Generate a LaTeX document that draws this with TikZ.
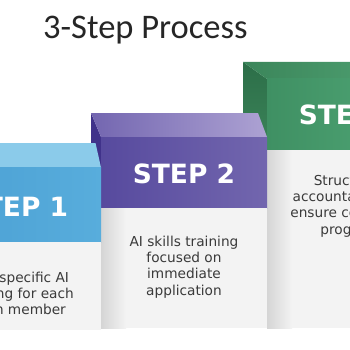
\documentclass[tikz,border=0pt]{standalone}
\usepackage{fontspec}
\setmainfont{DejaVu Sans}
\newfontfamily\titlefont{Carlito}
\definecolor{titlegray}{HTML}{262626}
\definecolor{bodygray}{HTML}{3A3A3A}
\definecolor{panel}{HTML}{F3F3F3}
\definecolor{panelshade}{HTML}{D5D5D5}
\definecolor{sonetop}{HTML}{8BCBEA}
\definecolor{sonefrontL}{HTML}{4A9FD3}
\definecolor{sonefrontR}{HTML}{58ADDC}
\definecolor{stwotopL}{HTML}{7366B0}
\definecolor{stwotopR}{HTML}{ADA2D3}
\definecolor{stwofrontL}{HTML}{574A9E}
\definecolor{stwofrontR}{HTML}{7266AE}
\definecolor{stwoside}{HTML}{40328A}
\definecolor{sthreetopL}{HTML}{3B855A}
\definecolor{sthreetopR}{HTML}{4A9A6C}
\definecolor{sthreefrontL}{HTML}{3F9063}
\definecolor{sthreefrontR}{HTML}{52A878}
\definecolor{sthreesideT}{HTML}{2C6E48}
\definecolor{sthreesideB}{HTML}{3A8258}
\begin{document}
\begin{tikzpicture}[x=1pt,y=-1pt,
  steplabel/.style={font=\bfseries\fontsize{26.5}{30}\selectfont, text=white, inner sep=0pt},
  bodytext/.style={font=\fontsize{13.7}{16.3}\selectfont, text=bodygray, align=center, inner sep=0pt, anchor=north},
  panelfill/.style={fill=panel},
  panelgrad/.style={left color=panelshade, right color=panel}]
\useasboundingbox (0,0) rectangle (350,350);
\clip (0,0) rectangle (350,350);
\fill[white] (0,0) rectangle (350,350);

% ---- title
\node[font=\titlefont\fontsize{34.5}{40}\selectfont, text=titlegray, anchor=base west, inner sep=0pt] (title) at (43,38.5) {3-Step Process};

% ---- step 3 (back)
\shade[top color=sthreesideT, bottom color=sthreesideB] (243,62) -- (267,79) -- (267,140) -- (243,140) -- cycle;
\shade[left color=sthreetopL, right color=sthreetopR] (243,62) -- (360,62) -- (360,79) -- (267,79) -- cycle;
\shade[left color=sthreefrontL, right color=sthreefrontR] (267,79) rectangle (433,150);
\fill[panelfill] (267,150) rectangle (433,328);
\shade[panelgrad] (267,150) rectangle (292,328);
\node[steplabel] (s3label) at (350,114.5) {STEP 3};
\node[bodytext] (s3text) at (350,174.6) {Structured\\accountability to\\ensure continued\\progress};

% ---- step 2
\fill[stwoside] (91,113) -- (101,137) -- (101,175) -- (91,175) -- cycle;
\shade[left color=stwotopL, right color=stwotopR] (91,113) -- (258,113) -- (267,137) -- (101,137) -- cycle;
\shade[left color=stwofrontL, right color=stwofrontR] (101,137) rectangle (267,208);
\fill[panelfill] (101,208) rectangle (267,328);
\shade[panelgrad] (101,208) rectangle (126,328);
\node[steplabel] (s2label) at (184,174) {STEP 2};
\node[bodytext] (s2text) at (184,235.6) {AI skills training\\focused on\\immediate\\application};

% ---- step 1 (front)
\fill[sonetop] (-80,143) -- (95.5,143) -- (101,167.5) -- (-70,167.5) -- cycle;
\shade[left color=sonefrontL, right color=sonefrontR] (-66,167) rectangle (101,242);
\fill[panelfill] (-66,242) rectangle (101,330);
\node[steplabel] (s1label) at (17,207) {STEP 1};
\node[bodytext] (s1text) at (17,271.6) {Role-specific AI\\training for each\\team member};
\end{tikzpicture}
\end{document}
